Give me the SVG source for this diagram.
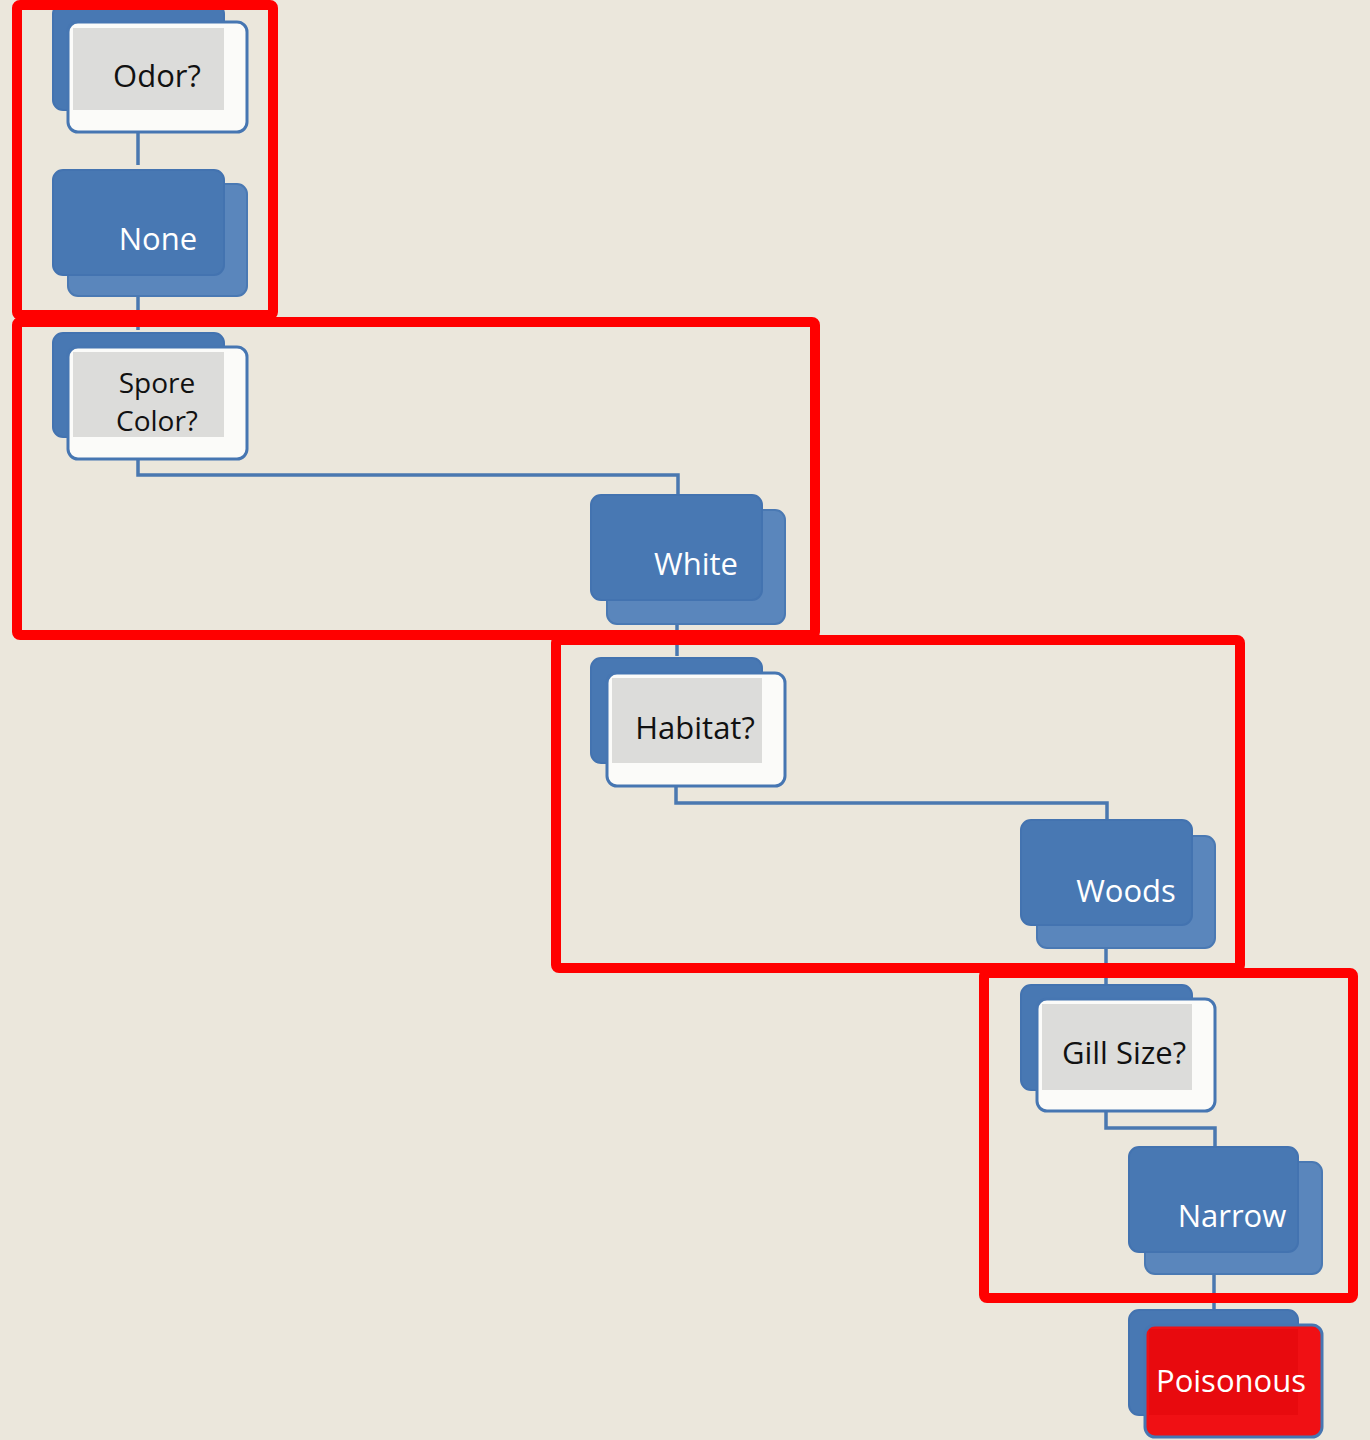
<svg xmlns="http://www.w3.org/2000/svg" width="1370" height="1440" viewBox="0 0 1370 1440">
<style>
.bg{fill:#EBE7DC}
.dk{fill:#4878B3;stroke:#4373B0;stroke-width:2}
.lt{fill:#5A86BC;stroke:#4A79B3;stroke-width:2}
.wf{fill:#FBFBF9;stroke:#4676B2;stroke-width:3}
.gr{fill:#DCDCDA}
.rf{fill:#F01014;stroke:#4676B2;stroke-width:3}
.ri{fill:#E80A0E}
.tw{font-family:"Open Sans","Noto Sans",sans-serif;font-size:31px;fill:#FFFFFF;text-anchor:middle}
.tb{font-family:"Open Sans","Noto Sans",sans-serif;font-size:31px;fill:#111111;text-anchor:middle}
.con{fill:none;stroke:#4A78B0;stroke-width:3.5}
.ann{fill:none;stroke:#FF0000;stroke-width:10}
</style>
<rect class="bg" x="0" y="0" width="1370" height="1440"/>
<g id="connectors">
<path class="con" d="M138 118V165"/>
<path class="con" d="M138 275V330"/>
<path class="con" d="M138 459V475H678V495"/>
<path class="con" d="M677 600V656"/>
<path class="con" d="M676 786V803H1107V820"/>
<path class="con" d="M1106 925V985"/>
<path class="con" d="M1106 1111V1128H1215V1147"/>
<path class="con" d="M1214 1252V1310"/>
</g>
<g id="odor">
<rect class="dk" x="53" y="4" width="171" height="106" rx="10"/>
<rect class="wf" x="68" y="22" width="179" height="110" rx="10"/>
<rect class="gr" x="73" y="28" width="151" height="82"/>
<text class="tb" x="157" y="87">Odor?</text>
</g>
<g id="none">
<rect class="lt" x="68" y="184" width="179" height="112" rx="10"/>
<rect class="dk" x="53" y="170" width="171" height="105" rx="10"/>
<text class="tw" x="158" y="250">None</text>
</g>
<g id="spore">
<rect class="dk" x="53" y="333" width="171" height="104" rx="10"/>
<rect class="wf" x="68" y="347" width="179" height="112" rx="10"/>
<rect class="gr" x="73" y="352" width="151" height="85"/>
<text class="tb" x="157" y="393" style="font-size:28px">Spore</text>
<text class="tb" x="157" y="431" style="font-size:28px">Color?</text>
</g>
<g id="white">
<rect class="lt" x="607" y="510" width="178" height="114" rx="10"/>
<rect class="dk" x="591" y="495" width="171" height="105" rx="10"/>
<text class="tw" x="696" y="575">White</text>
</g>
<g id="habitat">
<rect class="dk" x="591" y="658" width="171" height="105" rx="10"/>
<rect class="wf" x="607" y="673" width="178" height="113" rx="10"/>
<rect class="gr" x="612" y="678" width="150" height="85"/>
<text class="tb" x="695" y="739">Habitat?</text>
</g>
<g id="woods">
<rect class="lt" x="1037" y="836" width="178" height="112" rx="10"/>
<rect class="dk" x="1021" y="820" width="171" height="105" rx="10"/>
<text class="tw" x="1126" y="902">Woods</text>
</g>
<g id="gillsize">
<rect class="dk" x="1021" y="985" width="171" height="105" rx="10"/>
<rect class="wf" x="1037" y="999" width="178" height="112" rx="10"/>
<rect class="gr" x="1042" y="1004" width="150" height="86"/>
<text class="tb" x="1124" y="1064">Gill Size?</text>
</g>
<g id="narrow">
<rect class="lt" x="1145" y="1162" width="177" height="112" rx="10"/>
<rect class="dk" x="1129" y="1147" width="169" height="105" rx="10"/>
<text class="tw" x="1232" y="1227">Narrow</text>
</g>
<g id="poisonous">
<rect class="dk" x="1129" y="1310" width="169" height="105" rx="10"/>
<rect class="rf" x="1145" y="1325" width="177" height="112" rx="10"/>
<rect class="ri" x="1149" y="1329" width="149" height="86"/>
<text class="tw" x="1231" y="1392">Poisonous</text>
</g>
<g id="annotations">
<rect class="ann" x="17" y="5" width="256" height="310" rx="3"/>
<rect class="ann" x="17" y="322" width="798" height="313" rx="3"/>
<rect class="ann" x="556" y="640" width="684" height="328" rx="3"/>
<rect class="ann" x="984" y="973" width="369" height="325" rx="3"/>
</g>
</svg>
